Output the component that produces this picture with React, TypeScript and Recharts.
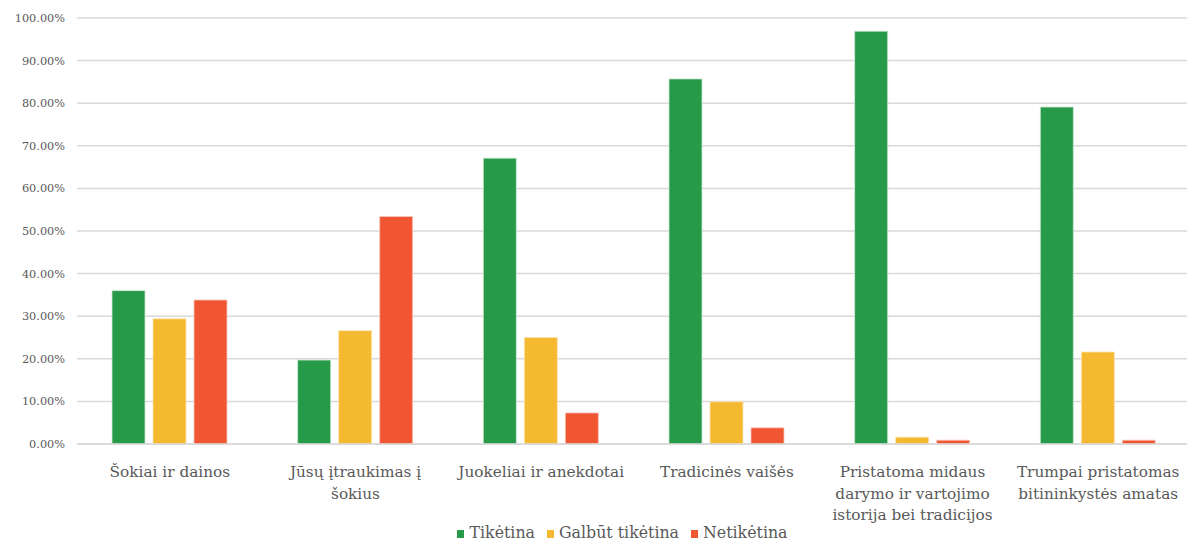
import React from "react";
import { BarChart, Bar, XAxis, YAxis, CartesianGrid, Legend } from "recharts";

const categories = [
  "Šokiai ir dainos",
  "Jūsų įtraukimas į šokius",
  "Juokeliai ir anekdotai",
  "Tradicinės vaišės",
  "Pristatoma midaus darymo ir vartojimo istorija bei tradicijos",
  "Trumpai pristatomas bitininkystės amatas",
];

const categoryLines = [
  ["Šokiai ir dainos"],
  ["Jūsų įtraukimas į", "šokius"],
  ["Juokeliai ir anekdotai"],
  ["Tradicinės vaišės"],
  ["Pristatoma midaus", "darymo ir vartojimo", "istorija bei tradicijos"],
  ["Trumpai pristatomas", "bitininkystės amatas"],
];

const likely = [36.0, 19.7, 67.1, 85.7, 96.9, 79.1];
const maybe = [29.4, 26.6, 25.0, 9.9, 1.6, 21.6];
const unlikely = [33.8, 53.4, 7.3, 3.8, 0.9, 0.9];

const seriesNames = ["Tikėtina", "Galbūt tikėtina", "Netikėtina"];
const seriesColors = ["#279a49", "#f5b931", "#ef5631"];

const yTicks = [0, 10, 20, 30, 40, 50, 60, 70, 80, 90, 100];

const data = categories.map((name, i) => ({
  name,
  likely: likely[i],
  maybe: maybe[i],
  unlikely: unlikely[i],
}));

const FONT = "'DejaVu Serif', 'Liberation Serif', serif";

function CategoryTick({ x, y, payload }: any) {
  const idx = categories.indexOf(payload.value);
  const lines = idx >= 0 ? categoryLines[idx] : [payload.value];
  return (
    <g transform={`translate(${x},${y})`}>
      <text textAnchor="middle" fill="#595959" fontSize={15.3} fontFamily={FONT}>
        {lines.map((l, i) => (
          <tspan key={i} x={0} dy={i === 0 ? 31 : 21.5}>
            {l}
          </tspan>
        ))}
      </text>
    </g>
  );
}

function LegendContent() {
  return (
    <div
      style={{
        display: "flex",
        justifyContent: "center",
        alignItems: "flex-end",
        height: 30,
        paddingLeft: 66,
        fontFamily: FONT,
        fontSize: 15.8,
        lineHeight: "19px",
        color: "#595959",
      }}
    >
      {seriesNames.map((n, i) => (
        <span key={n} style={{ display: "flex", alignItems: "center", marginRight: 12 }}>
          <span
            style={{
              display: "inline-block",
              width: 7,
              height: 8,
              background: seriesColors[i],
              marginRight: 5,
              marginTop: 3,
            }}
          />
          {n}
        </span>
      ))}
    </div>
  );
}

export default function App() {
  return (
    <div style={{ position: "absolute", left: 0, top: 0, background: "#fff" }}>
      <BarChart
        width={1187}
        height={542}
        data={data}
        margin={{ top: 18, right: -4, left: 0, bottom: 0 }}
        barCategoryGap={35}
        barGap={8}
      >
        <CartesianGrid vertical={false} stroke="#d9d9d9" strokeWidth={1.5} />
        <XAxis
          dataKey="name"
          tick={<CategoryTick />}
          tickLine={false}
          axisLine={{ stroke: "#d9d9d9", strokeWidth: 1.5 }}
          tickSize={0}
          height={68}
          interval={0}
        />
        <YAxis
          width={77}
          domain={[0, 100]}
          ticks={yTicks}
          tickFormatter={(v: number) => `${v.toFixed(2)}%`}
          tick={{ fontSize: 11.3, fill: "#595959", fontFamily: FONT }}
          tickLine={false}
          axisLine={false}
          tickSize={0}
          tickMargin={12}
        />
        <Legend verticalAlign="bottom" height={30} content={<LegendContent />} />
        <Bar dataKey="likely" name={seriesNames[0]} fill={seriesColors[0]} stroke="#c8e6d0" strokeWidth={0.8} isAnimationActive={false} />
        <Bar dataKey="maybe" name={seriesNames[1]} fill={seriesColors[1]} stroke="#fbe4b0" strokeWidth={0.8} isAnimationActive={false} />
        <Bar dataKey="unlikely" name={seriesNames[2]} fill={seriesColors[2]} stroke="#f9c8bb" strokeWidth={0.8} isAnimationActive={false} />
      </BarChart>
    </div>
  );
}
